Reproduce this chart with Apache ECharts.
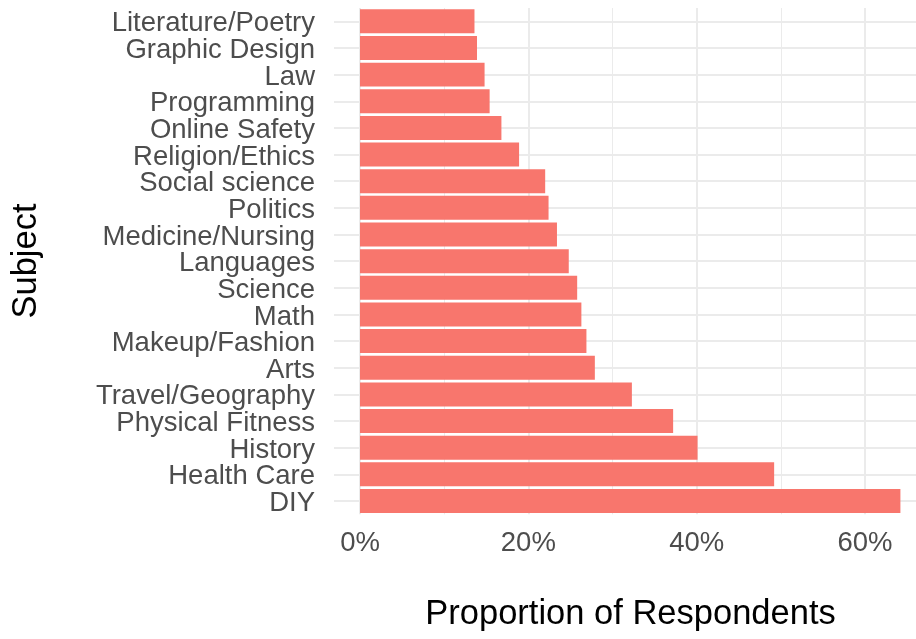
<!DOCTYPE html>
<html>
<head>
<meta charset="utf-8">
<script src="https://cdn.jsdelivr.net/npm/echarts@6/dist/echarts.min.js"></script>
<style>
  html, body { margin: 0; padding: 0; background: #ffffff; }
  #chart { width: 916px; height: 639px; }
</style>
</head>
<body>
<div id="chart"></div>
<script>
// Subjects, listed top to bottom as in the chart
const subjects = [
  "Literature/Poetry", "Graphic Design", "Law", "Programming", "Online Safety",
  "Religion/Ethics", "Social science", "Politics", "Medicine/Nursing", "Languages",
  "Science", "Math", "Makeup/Fashion", "Arts", "Travel/Geography",
  "Physical Fitness", "History", "Health Care", "DIY"
];
// Proportion of respondents (%)
const proportions = [
  13.6, 13.9, 14.8, 15.4, 16.8,
  18.9, 22.0, 22.4, 23.4, 24.8,
  25.8, 26.3, 26.9, 27.9, 32.3,
  37.2, 40.1, 49.2, 64.2
];
const xTitle = "Proportion of Respondents";
const yTitle = "Subject";

const FONT = "'Liberation Sans', Arial, Helvetica, sans-serif";
const GRID = '#ebebeb';

const chart = echarts.init(document.getElementById('chart'), null, { renderer: 'canvas' });
chart.setOption({
  animation: false,
  backgroundColor: '#ffffff',
  grid: {
    left: 360, top: 8, width: 673.4, height: 506.3,
    containLabel: false, outerBoundsMode: 'none'
  },
  xAxis: {
    type: 'value',
    min: 0,
    max: 80,
    interval: 20,
    axisLine: { show: false },
    axisTick: { show: false },
    minorTick: { show: true, splitNumber: 2, length: 0, lineStyle: { color: 'rgba(0,0,0,0)' } },
    minorSplitLine: { show: true, lineStyle: { color: GRID, width: 1 } },
    splitLine: { show: true, lineStyle: { color: GRID, width: 2 } },
    axisLabel: {
      margin: 15,
      color: '#4d4d4d',
      fontFamily: FONT,
      fontSize: 27.5,
      formatter: v => v + '%'
    }
  },
  yAxis: {
    type: 'category',
    data: subjects,
    inverse: true,
    axisLine: { show: false },
    axisTick: { show: true, alignWithLabel: true, length: 26, lineStyle: { color: GRID, width: 2 } },
    splitLine: { show: true, alignWithLabel: true, lineStyle: { color: GRID, width: 2 } },
    axisLabel: {
      interval: 0,
      hideOverlap: false,
      margin: 45,
      formatter: v => '{s|' + v + '}',
      rich: {
        s: {
          color: '#4d4d4d',
          fontFamily: FONT,
          fontSize: 27.5,
          padding: [5, 0, 0, 0]
        }
      }
    }
  },
  graphic: [
    {
      type: 'text',
      x: 630.5, y: 614,
      style: {
        text: xTitle, fill: '#000000', font: '34.5px ' + FONT,
        textAlign: 'center', textVerticalAlign: 'middle'
      }
    },
    {
      type: 'text',
      x: 26, y: 261,
      rotation: Math.PI / 2,
      style: {
        text: yTitle, fill: '#000000', font: '34.5px ' + FONT,
        textAlign: 'center', textVerticalAlign: 'middle'
      }
    }
  ],
  series: [{
    type: 'bar',
    data: proportions,
    barCategoryGap: '10%',
    itemStyle: { color: '#F8766D' },
    clip: false
  }]
});
</script>
</body>
</html>
